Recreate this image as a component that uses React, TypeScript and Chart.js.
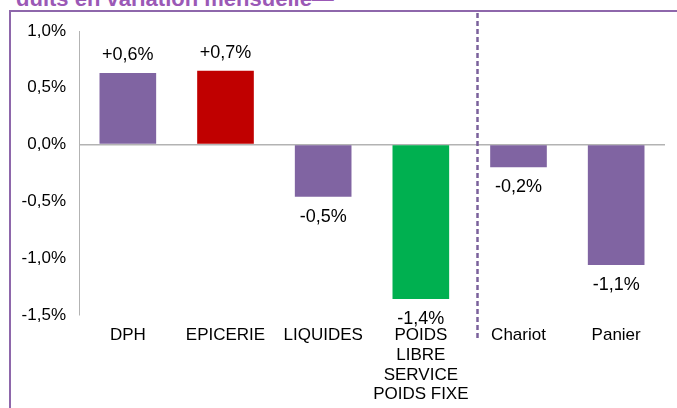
import React, { useEffect, useRef } from "react";
import { Chart, registerables } from "chart.js";

Chart.register(...registerables);

const categories: (string | string[])[] = [
  "DPH",
  "EPICERIE",
  "LIQUIDES",
  ["POIDS", "LIBRE", "SERVICE", "POIDS FIXE"],
  "Chariot",
  "Panier",
];
const values = [0.63, 0.65, -0.46, -1.36, -0.2, -1.06];
const valueLabels = ["+0,6%", "+0,7%", "-0,5%", "-1,4%", "-0,2%", "-1,1%"];
const barColors = ["#8064A2", "#C00000", "#8064A2", "#00B050", "#8064A2", "#8064A2"];
const yMin = -1.5;
const yMax = 1.0;
const yStep = 0.5;
const separatorAfterIndex = 3.58;
const titleText = "duits en variation mensuelle—";

const FONT = "'Liberation Sans', Arial, sans-serif";

const overlayPlugin = {
  id: "overlay",
  afterDatasetsDraw(chart: any) {
    const ctx = chart.ctx;
    const meta = chart.getDatasetMeta(0);
    ctx.save();
    ctx.font = `18px ${FONT}`;
    ctx.fillStyle = "#000";
    ctx.textAlign = "center";
    ctx.textBaseline = "middle";
    meta.data.forEach((bar: any, i: number) => {
      const v = values[i];
      const y = v >= 0 ? bar.y - 18 : bar.y + 20;
      ctx.fillText(valueLabels[i], bar.x, y);
    });
    // dashed separator
    const xs = chart.scales.x;
    const sx = Math.round(xs.getPixelForValue(separatorAfterIndex)) + 0.5;
    ctx.strokeStyle = "#7B619C";
    ctx.lineWidth = 2.5;
    ctx.setLineDash([5, 3]);
    ctx.beginPath();
    ctx.moveTo(sx, 13);
    ctx.lineTo(sx, 340);
    ctx.stroke();
    ctx.restore();
  },
};

export default function App() {
  const ref = useRef<HTMLCanvasElement>(null);
  useEffect(() => {
    if (!ref.current) return;
    const chart = new Chart(ref.current, {
      type: "bar",
      data: {
        labels: categories,
        datasets: [
          {
            data: values,
            backgroundColor: barColors,
            barPercentage: 0.58,
            categoryPercentage: 1,
          },
        ],
      },
      options: {
        animation: false,
        responsive: false,
        maintainAspectRatio: false,
        layout: { padding: { left: 0, right: 12, top: 31, bottom: 0 } },
        plugins: {
          legend: { display: false },
          tooltip: { enabled: false },
          title: { display: false },
        },
        scales: {
          x: {
            grid: { display: false, drawTicks: false },
            border: { display: false },
            ticks: {
              color: "#000",
              font: { family: FONT, size: 17, lineHeight: 1.15 },
              padding: 11,
              maxRotation: 0,
              autoSkip: false,
            },
            afterFit: (axis: any) => {
              axis.height = 93;
            },
          },
          y: {
            min: yMin,
            max: yMax,
            grid: {
              drawTicks: false,
              color: (c: any) => (c.tick && Math.abs(c.tick.value) < 1e-9 ? "#B3B3B3" : "rgba(0,0,0,0)"),
              lineWidth: 1.5,
            },
            border: { display: true, color: "#B3B3B3", width: 1 },
            ticks: {
              stepSize: yStep,
              color: "#000",
              padding: 13,
              font: { family: FONT, size: 17 },
              callback: (v: any) => (Math.round(Number(v) * 10) / 10).toFixed(1).replace(".", ",") + "%",
            },
            afterFit: (axis: any) => {
              axis.width = 79;
            },
          },
        },
      },
      plugins: [overlayPlugin],
    });
    return () => chart.destroy();
  }, []);

  return (
    <div
      style={{
        position: "fixed",
        left: 0,
        top: 0,
        width: 677,
        height: 408,
        overflow: "hidden",
        background: "#fff",
      }}
    >
      <div
        style={{
          position: "absolute",
          left: 16,
          top: -12,
          fontFamily: FONT,
          fontWeight: "bold",
          fontSize: 22,
          lineHeight: "22px",
          color: "#9B59B6",
          whiteSpace: "nowrap",
        }}
      >
        {titleText}
      </div>
      <div
        style={{
          position: "absolute",
          left: 9,
          top: 10,
          width: 700,
          height: 500,
          borderTop: "2px solid #8E67AB",
          borderLeft: "2px solid #8E67AB",
          boxSizing: "border-box",
        }}
      />
      <canvas
        ref={ref}
        width={677}
        height={408}
        style={{ position: "absolute", left: 0, top: 0, width: 677, height: 408 }}
      />
    </div>
  );
}
